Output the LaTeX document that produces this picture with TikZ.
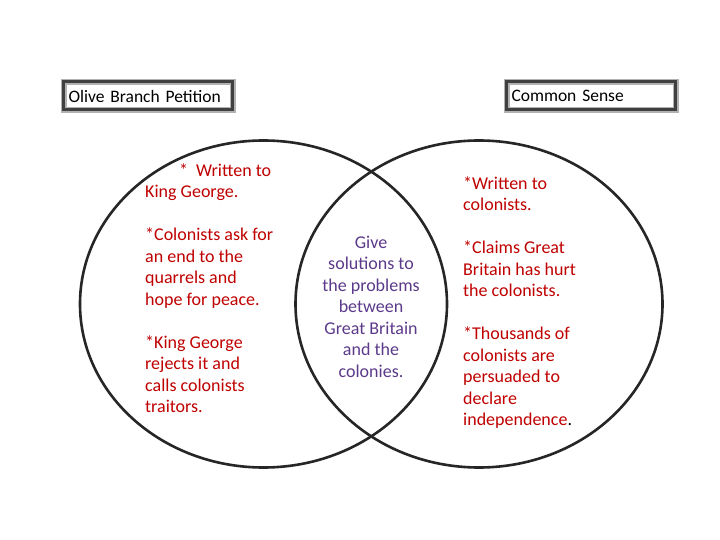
\documentclass[tikz,border=0pt]{standalone}
\usepackage{fontspec}
\setmainfont{Carlito}
\usetikzlibrary{shapes.geometric,positioning}

\definecolor{textred}{RGB}{192,0,0}
\definecolor{textpurple}{RGB}{92,58,138}

\tikzset{
    venn/.style={ellipse, draw=black!85, line width=2.6pt, inner sep=0pt,
        minimum width=367pt, minimum height=327pt},
    titlebox/.style={draw=black!75, line width=3pt, inner xsep=5pt, inner ysep=0pt,
        minimum height=28pt, text width=159pt, align=left,
        font=\fontsize{17.5}{19}\selectfont,
        preaction={draw=black!30, line width=6pt}},
    notes/.style={inner sep=0pt, font=\fontsize{18}{21.5}\selectfont},
}

\begin{document}
\begin{tikzpicture}[x=1pt,y=-1pt]
    \useasboundingbox (0,0) rectangle (720,540);
    \fill[white] (0,0) rectangle (720,540);
    % the two circles
    \node[venn] (olive) at (263.5,304) {};
    \node[venn] (sense) at (479,304) {};
    % titles
    \node[titlebox, anchor=west] (oliveT) at (62,96) {Olive Branch Petition};
    \node[titlebox, anchor=west] (senseT) at (505,96) {Common Sense};
    % notes (anchored on the last line)
    \node[notes, textred, align=left, anchor=base west] (oliveN) at (145,412.5) {%
        \hspace*{34pt}*\hspace{8pt}Written to\\ King George.\\[21.5pt]
        *Colonists ask for\\ an end to the\\ quarrels and\\ hope for peace.\\[21.5pt]
        *King George\\ rejects it and\\ calls colonists\\ traitors.};
    \node[notes, textpurple, align=center, anchor=base] (bothN) at (371,377) {%
        Give\\ solutions to\\ the problems\\ between\\ Great Britain\\ and the\\ colonies.};
    \node[notes, textred, align=left, anchor=base west] (senseN) at (463,425.5) {%
        *Written to\\ colonists.\\[21.5pt]
        *Claims Great\\ Britain has hurt\\ the colonists.\\[21.5pt]
        *Thousands of\\ colonists are\\ persuaded to\\ declare\\ independence{\color{black}.}};
\end{tikzpicture}
\end{document}
